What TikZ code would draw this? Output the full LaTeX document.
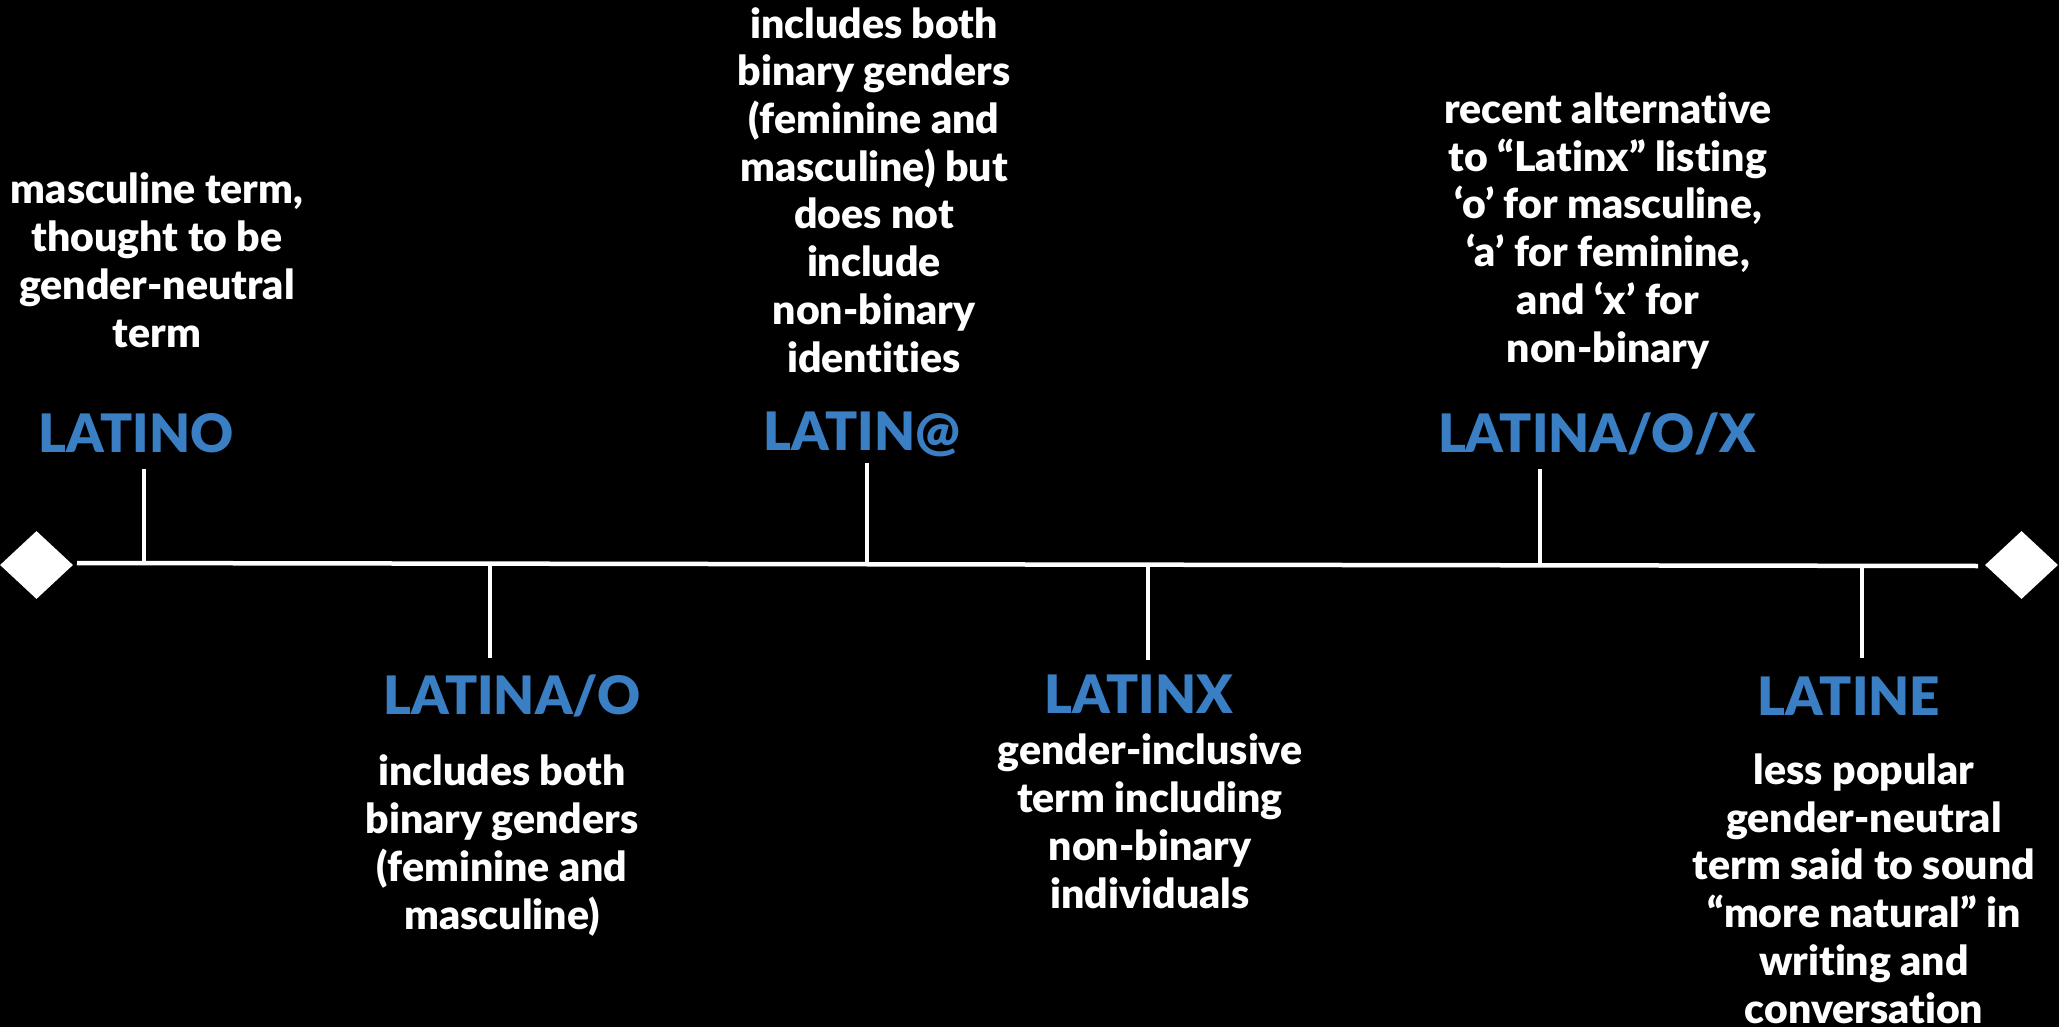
\documentclass[tikz,border=0pt]{standalone}
\usepackage{fontspec}
\setmainfont{Lato}[Ligatures=NoCommon, BoldFont={Lato Black}]
\usetikzlibrary{shapes.geometric}
\definecolor{termblue}{RGB}{58,126,196}
\begin{document}
\begin{tikzpicture}[x=1pt,y=-1pt,
  desc/.style={text=white, font=\bfseries\fontsize{41}{47.7}\selectfont, align=center, inner sep=0pt, anchor=base},
  term/.style={text=termblue, font=\bfseries\fontsize{53}{60}\selectfont, inner sep=0pt, anchor=base},
  tickline/.style={draw=white, line width=4.5pt},
  axisline/.style={draw=white, line width=4.5pt},
  endmark/.style={diamond, fill=white, inner sep=0pt, minimum width=73pt, minimum height=68pt}]
\fill[black] (0,0) rectangle (2059,1027);
\useasboundingbox (0,0) rectangle (2059,1027);

% end marks and axis
\node[endmark] (dL) at (36.5,565) {};
\node[endmark] (dR) at (2021.5,565) {};
\coordinate (axL) at (77,563);
\coordinate (axR) at (1978,566);
\draw[axisline] (axL) -- (axR);

% terms
\node[term] (latino)   at (136,452)  {LATINO};
\node[term] (latinat)  at (862,450)  {LATIN@};
\node[term] (latinaox) at (1597,452) {LATINA/O/X};
\node[term] (latinao)  at (512,714)  {LATINA/O};
\node[term] (latinx)   at (1139,713) {LATINX};
\node[term] (latine)   at (1849,715) {LATINE};

% ticks
\coordinate (t1a) at (144,469);  \coordinate (t1b) at (144,563.1);
\coordinate (t2a) at (490,563.7); \coordinate (t2b) at (490,658);
\coordinate (t3a) at (867,463);  \coordinate (t3b) at (867,564.2);
\coordinate (t4a) at (1148,564.7); \coordinate (t4b) at (1148,660);
\coordinate (t5a) at (1540,469); \coordinate (t5b) at (1540,565.3);
\coordinate (t6a) at (1862,565.8); \coordinate (t6b) at (1862,658);
\draw[tickline] (t1a) -- (t1b);
\draw[tickline] (t2a) -- (t2b);
\draw[tickline] (t3a) -- (t3b);
\draw[tickline] (t4a) -- (t4b);
\draw[tickline] (t5a) -- (t5b);
\draw[tickline] (t6a) -- (t6b);

% descriptions (anchored at the baseline of the last line)
\node[desc] (d1) at (157,347) {masculine term,\\thought to be\\gender-neutral\\term};
\node[desc] (d2) at (874,372) {includes both\\binary genders\\(feminine and\\masculine) but\\does not\\include\\non-binary\\identities};
\node[desc] (d3) at (1608,362) {recent alternative\\to “Latinx” listing\\‘o’ for masculine,\\‘a’ for feminine,\\and ‘x’ for\\non-binary};
\node[desc] (d4) at (502,929) {includes both\\binary genders\\(feminine and\\masculine)};
\node[desc] (d5) at (1150,908) {gender-inclusive\\term including\\non-binary\\individuals};
\node[desc] (d6) at (1864,1023) {less popular\\gender-neutral\\term said to sound\\“more natural” in\\writing and\\conversation};
\end{tikzpicture}
\end{document}
